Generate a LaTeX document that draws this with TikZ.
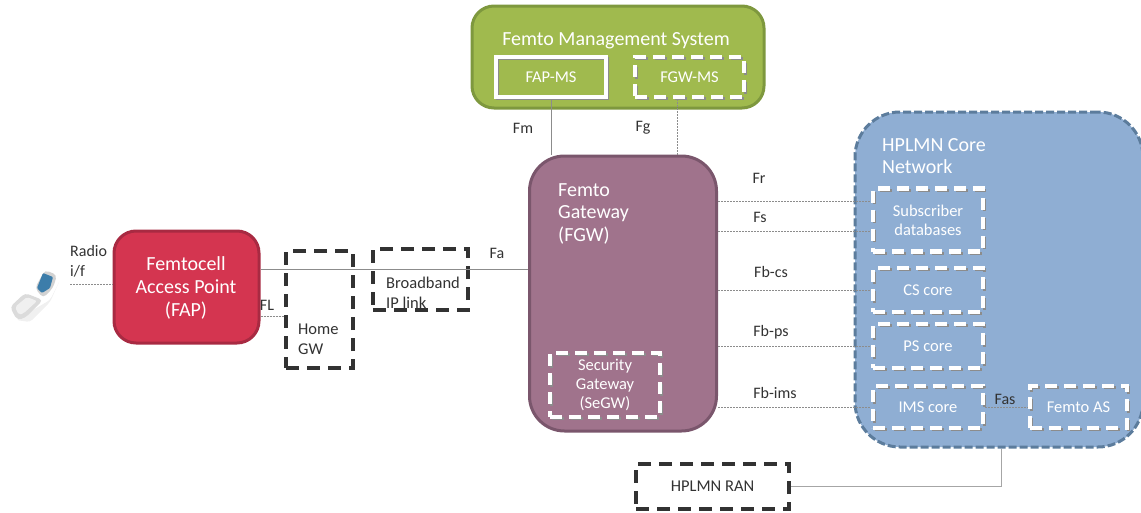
\documentclass[tikz,border=0pt]{standalone}
\usepackage{fontspec}
\setmainfont{Carlito}
\definecolor{fapred}{RGB}{212, 53, 80}
\definecolor{fapedge}{RGB}{168, 42, 66}
\definecolor{fmsgreen}{RGB}{160, 186, 78}
\definecolor{fmsedge}{RGB}{126, 152, 62}
\definecolor{fgwmauve}{RGB}{160, 115, 140}
\definecolor{fgwedge}{RGB}{122, 86, 108}
\definecolor{coreblue}{RGB}{143, 174, 211}
\definecolor{coreedge}{RGB}{92, 124, 156}
\definecolor{ink}{RGB}{50, 50, 50}
\definecolor{screenblue}{RGB}{60, 125, 170}

\begin{document}
\begin{tikzpicture}[
x=1pt, y=-1pt,
hub/.style={rectangle, draw, line width=3pt, inner sep=0pt, rounded corners=22pt, text=white, font=\fontsize{20}{23}\selectfont, align=center},
extbox/.style={rectangle, draw=ink, line width=4pt, dash pattern=on 13pt off 8pt, inner sep=0pt, text=ink, font=\fontsize{16.5}{20}\selectfont, align=center},
inbox/.style={rectangle, draw=white, line width=4.5pt, dash pattern=on 12pt off 7pt, inner sep=0pt, text=white, font=\fontsize{16.5}{19}\selectfont, align=center,
  preaction={draw=black!45, line width=3pt, transform canvas={xshift=1.5pt, yshift=-1.5pt}}},
iflabel/.style={inner sep=0pt, text=ink, font=\fontsize{16}{20}\selectfont, align=left},
hublabel/.style={inner sep=0pt, text=white, font=\fontsize{20}{22.5}\selectfont, align=left},
solidwire/.style={draw=gray!90, line width=1pt},
dashwire/.style={draw=gray!90, line width=1pt, dash pattern=on 2pt off 1pt}
]
\useasboundingbox (0,0) rectangle (1141,512);

% Handset
\fill [gray!12, rounded corners=3pt] (16,320) -- (30,322) -- (50,302) -- (60,280) -- (50,300) -- cycle;
\fill [gray!28, rounded corners=4pt] (10,307) -- (25,293) -- (43,300) -- (25,318) -- (17,320) -- cycle;
\fill [gray!12, rounded corners=2pt] (15,307) -- (27,297) -- (37,301) -- (24,313) -- (19,315) -- cycle;
\fill [gray!35, rounded corners=4pt] (35,288) -- (45,270) -- (57,275) -- (53,288) -- (43,298) -- cycle;
\fill [screenblue, rounded corners=1pt] (37,288) -- (43,273) -- (53,277) -- (50,288) -- (42,293) -- cycle;

% Main blocks
\node (fms) [hub, draw=fmsedge, fill=fmsgreen, minimum width=292pt, minimum height=102pt] at (618,57) {};
\node (fgw) [hub, draw=fgwedge, fill=fgwmauve, minimum width=187pt, minimum height=275pt, rounded corners=35pt] at (623,293.5) {};
\node (core) [hub, draw=coreedge, fill=coreblue, dash pattern=on 8pt off 3pt, minimum width=288pt, minimum height=335pt, rounded corners=45pt] at (999,279.5) {};
\node (fap) [hub, draw=fapedge, fill=fapred, minimum width=145pt, minimum height=112pt] at (186.5,287) {};

% Block titles
\node (fap_title) [hublabel, align=center, font=\fontsize{20}{22.7}\selectfont] at (186,288) {Femtocell\\Access Point\\(FAP)};
\node (fms_title) [hublabel] at (616,41) {Femto Management System};
\node (fgw_title) [hublabel, anchor=north west] at (558,183) {Femto\\Gateway\\(FGW)};
\node (core_title) [hublabel, anchor=north west] at (882,138) {HPLMN Core\\Network};

% Inner boxes
\node (fapms) [inbox, dash pattern=, minimum width=110pt, minimum height=40pt] at (551,77) {FAP-MS};
\node (fgwms) [inbox, minimum width=109pt, minimum height=40pt] at (689.5,77) {FGW-MS};
\node (segw) [inbox, minimum width=110pt, minimum height=64pt] at (605,385) {Security\\Gateway\\(SeGW)};
\node (subs) [inbox, minimum width=110pt, minimum height=63pt] at (928,220) {Subscriber\\databases};
\node (cs) [inbox, minimum width=110pt, minimum height=44pt] at (928,290) {CS core};
\node (ps) [inbox, minimum width=110pt, minimum height=44pt] at (928,346) {PS core};
\node (ims) [inbox, minimum width=110pt, minimum height=42pt] at (928,407) {IMS core};
\node (fas) [inbox, minimum width=97pt, minimum height=42pt] at (1078.5,407) {Femto AS};

% External boxes
\node (homegw) [extbox, minimum width=67pt, minimum height=117pt] at (319.5,309.5) {};
\node (homegw_text) [iflabel, anchor=north west, font=\fontsize{16.5}{20}\selectfont] at (298,324) {Home\\GW};
\node (bband) [extbox, minimum width=95pt, minimum height=61pt] at (420.5,279.5) {};
\node (bband_text) [iflabel, anchor=north west, font=\fontsize{16.5}{20}\selectfont] at (386,277) {Broadband\\IP link};
\node (ran) [extbox, minimum width=153pt, minimum height=45pt] at (712.5,486.5) {HPLMN RAN};

% Free ends
\coordinate (radio_end) at (70,284);
\coordinate (fr_y) at (800,201);
\coordinate (fs_y) at (800,231);
\coordinate (fa_y) at (400,269);
\coordinate (fl_y) at (270,316);
\coordinate (fg_x) at (677,128);

% Interfaces
\draw [dashwire] (radio_end) -- (radio_end -| fap.west);
\draw [dashwire] (fl_y -| fap.east) -- (fl_y -| homegw.west);
\draw [solidwire] (fa_y -| fap.east) -- (fa_y -| fgw.west);
\draw [solidwire] (fapms.south) -- (fapms.south |- fgw.north);
\draw [dashwire] (fg_x |- fgwms.south) -- (fg_x |- fgw.north);
\draw [dashwire] (fr_y -| fgw.east) -- (fr_y -| subs.west);
\draw [dashwire] (fs_y -| fgw.east) -- (fs_y -| subs.west);
\draw [dashwire] (cs.west -| fgw.east) -- (cs.west);
\draw [dashwire] (ps.west -| fgw.east) -- (ps.west);
\draw [dashwire] (ims.west -| fgw.east) -- (ims.west);
\draw [dashwire] (ims.east) -- (fas.west);
\draw [solidwire, draw=gray!70] (ran.east) -| ([xshift=2pt]core.south);

% Interface labels
\node (radio) [iflabel, anchor=north west] at (70,245) {Radio\\i/f};
\node (fl) [iflabel] at (267,305) {FL};
\node (fa) [iflabel] at (497,253) {Fa};
\node (fm) [iflabel] at (523,128) {Fm};
\node (fg) [iflabel] at (643,128) {Fg};
\node (fr) [iflabel] at (759,178) {Fr};
\node (fs) [iflabel] at (760,217) {Fs};
\node (fbcs) [iflabel] at (771,272) {Fb-cs};
\node (fbps) [iflabel] at (771,332) {Fb-ps};
\node (fbims) [iflabel] at (775,393) {Fb-ims};
\node (fasif) [iflabel] at (1005,399) {Fas};

\end{tikzpicture}
\end{document}
